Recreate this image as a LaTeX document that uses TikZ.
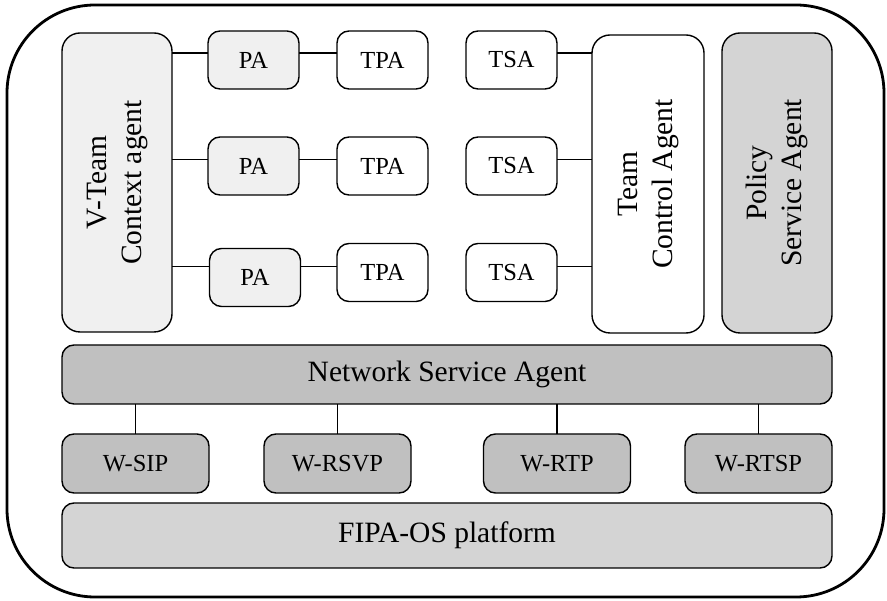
\documentclass[tikz,border=0pt]{standalone}
\usepackage{fontspec}
\setmainfont{Liberation Serif}
\usepackage{graphicx}
\definecolor{paleg}{HTML}{F0F0F0}
\definecolor{midg}{HTML}{D4D4D4}
\definecolor{darkg}{HTML}{C0C0C0}
\begin{document}
\begin{tikzpicture}[x=1pt,y=-1pt,
  box/.style={draw=black, line width=1.4pt, rounded corners=12pt, inner sep=0pt, outer sep=0pt, align=center},
  smallbox/.style={box, minimum width=91pt, minimum height=58pt, font=\fontsize{24.5}{29}\selectfont},
  bigbox/.style={box, rounded corners=18pt, font=\fontsize{29.5}{35}\selectfont},
  wbox/.style={box, fill=darkg, minimum width=147pt, minimum height=59pt, font=\fontsize{24.5}{29}\selectfont},
  link/.style={draw=black, line width=1.2pt}]
\useasboundingbox (0,0) rectangle (887,601);
\draw[line width=2.8pt, rounded corners=88pt] (7,5) rectangle (884,597);

% left column
\node[bigbox, fill=paleg, minimum width=110pt, minimum height=299pt] (vteam) at (117,182.5)
  {\rotatebox{90}{\begin{tabular}{@{}c@{}}V-Team\\Context agent\end{tabular}}};

% PA / TPA / TSA rows
\node[smallbox, fill=paleg] (pa1) at (253.5,60) {PA};
\node[smallbox, fill=paleg] (pa2) at (253.5,166) {PA};
\node[smallbox, fill=paleg] (pa3) at (255,277.5) {PA};
\node[smallbox, fill=white] (tpa1) at (382.5,60) {TPA};
\node[smallbox, fill=white] (tpa2) at (382.5,166) {TPA};
\node[smallbox, fill=white] (tpa3) at (382.5,272.5) {TPA};
\node[smallbox, fill=white] (tsa1) at (511.5,60) {TSA};
\node[smallbox, fill=white] (tsa2) at (511.5,166) {TSA};
\node[smallbox, fill=white] (tsa3) at (511.5,272.5) {TSA};

\node[bigbox, fill=white, minimum width=112pt, minimum height=298pt] (tca) at (648,184)
  {\rotatebox{90}{\begin{tabular}{@{}c@{}}Team\\Control Agent\end{tabular}}};
\node[bigbox, fill=midg, minimum width=110pt, minimum height=300pt] (psa) at (777,183)
  {\rotatebox{90}{\begin{tabular}{@{}c@{}}Policy\\Service Agent\end{tabular}}};

\coordinate (r1) at (0,53);
\coordinate (r2) at (0,159.5);
\coordinate (r3) at (0,266.5);
\foreach \i in {1,2,3}{
  \draw[link] (vteam.east |- r\i) -- (pa\i.west |- r\i);
  \draw[link] (pa\i.east |- r\i) -- (tpa\i.west |- r\i);
  \draw[link] (tsa\i.east |- r\i) -- (tca.west |- r\i);
}

% network layer
\node[bigbox, rounded corners=12pt, fill=darkg, minimum width=770pt, minimum height=59pt] (nsa) at (447,374.5) {Network Service Agent};
\node[wbox] (wsip) at (135.5,463.5) {W-SIP};
\node[wbox] (wrsvp) at (337.5,463.5) {W-RSVP};
\node[wbox] (wrtp) at (557,463.5) {W-RTP};
\node[wbox] (wrtsp) at (758.5,463.5) {W-RTSP};
\foreach \n in {wsip,wrsvp,wrtp,wrtsp}{
  \draw[link] (\n.north) -- (\n.north |- nsa.south);
}
\node[bigbox, rounded corners=12pt, fill=midg, minimum width=770pt, minimum height=65pt] (fipa) at (447,535.5) {FIPA-OS platform};
\end{tikzpicture}
\end{document}
